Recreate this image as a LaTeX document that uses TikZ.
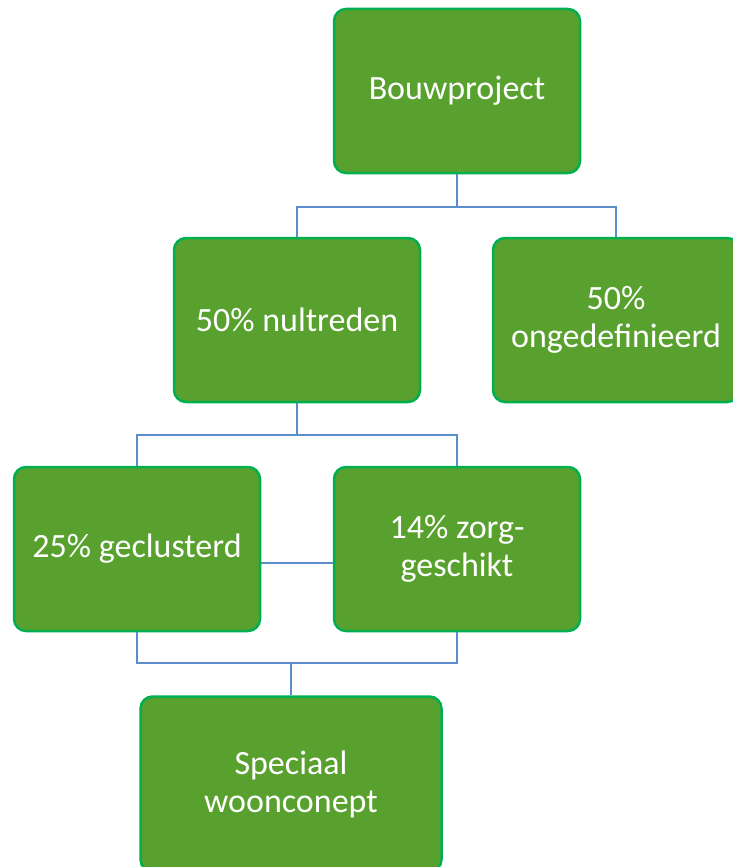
\documentclass[tikz,border=0pt]{standalone}
\usepackage{fontspec}
\setmainfont{Carlito}
\usetikzlibrary{positioning,calc}
\definecolor{grass}{RGB}{89,161,46}
\definecolor{rim}{RGB}{0,176,80}
\definecolor{wire}{RGB}{91,141,203}
\tikzset{
  box/.style={draw=rim,fill=grass,rounded corners=12pt,line width=2.5pt,
    minimum width=246pt,minimum height=164pt,inner sep=0pt,text=white,
    align=center,font=\fontsize{34}{38}\selectfont},
  bigbox/.style={box,minimum width=301pt,minimum height=175pt},
  link/.style={draw=wire,line width=2pt},
}
\begin{document}
\begin{tikzpicture}[x=1pt,y=1pt]
    \useasboundingbox (0,0) rectangle (733,-867);
    \clip (0,0) rectangle (733,-867);
    % boxes
    \node[box] (bouw) at (457,-91) {Bouwproject};
    \node[box] (nul) at (297,-320) {50\% nultreden};
    \node[box] (onbep) at (616,-320) {50\%\\ongedefinieerd};
    \node[box] (clus) at (137,-549) {25\% geclusterd};
    \node[box] (zorg) at (457,-549) {14\% zorg-\\geschikt};
    \node[bigbox] (spec) at (291,-784) {Speciaal\\woonconept};
    % connectors
    \draw[link] (bouw.south) -- ++(0,-33) coordinate (j1) -| (nul.north);
    \draw[link] (j1) -| (onbep.north);
    \draw[link] (nul.south) -- ++(0,-32) coordinate (j2) -| (clus.north);
    \draw[link] (j2) -| (zorg.north);
    \draw[link] ([yshift=-14pt]clus.east) -- ([yshift=-14pt]zorg.west);
    \draw[link] (clus.south) -- ++(0,-31) coordinate (j3) -| (zorg.south);
    \draw[link] (spec.north) -- (spec.north |- j3);
\end{tikzpicture}
\end{document}
